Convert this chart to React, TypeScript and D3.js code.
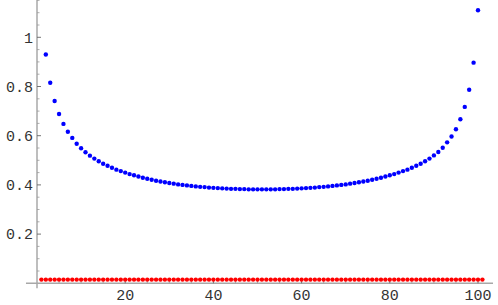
import React, { useEffect, useRef } from 'react';
import * as d3 from 'd3';

// Blue series, x = 2..100
const blueStart = 2;
const blueValues = [
  0.93, 0.815, 0.741, 0.688, 0.648, 0.616, 0.591, 0.567, 0.549, 0.533,
  0.519, 0.507, 0.496, 0.486, 0.478, 0.470, 0.462, 0.456, 0.450, 0.444,
  0.439, 0.434, 0.429, 0.425, 0.421, 0.417, 0.414, 0.411, 0.408, 0.405,
  0.402, 0.400, 0.398, 0.396, 0.394, 0.392, 0.391, 0.389, 0.388, 0.387,
  0.386, 0.385, 0.384, 0.384, 0.383, 0.383, 0.382, 0.382, 0.382, 0.382,
  0.382, 0.382, 0.382, 0.383, 0.383, 0.384, 0.384, 0.385, 0.386, 0.387,
  0.388, 0.389, 0.391, 0.392, 0.394, 0.396, 0.398, 0.400, 0.402, 0.405,
  0.408, 0.411, 0.414, 0.417, 0.421, 0.425, 0.429, 0.434, 0.439, 0.444,
  0.450, 0.456, 0.462, 0.470, 0.478, 0.486, 0.496, 0.507, 0.520, 0.534,
  0.551, 0.573, 0.597, 0.626, 0.667, 0.717, 0.787, 0.897, 1.11,
];

// Red series, x = 1..101
const redStart = 1;
const redValues = [
  0.015, 0.015, 0.015, 0.015, 0.015, 0.015, 0.015, 0.015, 0.015, 0.015,
  0.015, 0.015, 0.015, 0.015, 0.015, 0.015, 0.015, 0.015, 0.015, 0.015,
  0.015, 0.015, 0.015, 0.015, 0.015, 0.015, 0.015, 0.015, 0.015, 0.015,
  0.015, 0.015, 0.015, 0.015, 0.015, 0.015, 0.015, 0.015, 0.015, 0.015,
  0.015, 0.015, 0.015, 0.015, 0.015, 0.015, 0.015, 0.015, 0.015, 0.015,
  0.015, 0.015, 0.015, 0.015, 0.015, 0.015, 0.015, 0.015, 0.015, 0.015,
  0.015, 0.015, 0.015, 0.015, 0.015, 0.015, 0.015, 0.015, 0.015, 0.015,
  0.015, 0.015, 0.015, 0.015, 0.015, 0.015, 0.015, 0.015, 0.015, 0.015,
  0.015, 0.015, 0.015, 0.015, 0.015, 0.015, 0.015, 0.015, 0.015, 0.015,
  0.015, 0.015, 0.015, 0.015, 0.015, 0.015, 0.015, 0.015, 0.015, 0.015,
  0.015,
];

// Tick labels
const xTicks = [20, 40, 60, 80, 100];
const yTicks = [0.2, 0.4, 0.6, 0.8, 1];

const App = () => {
  const svgRef = useRef<SVGSVGElement>(null);

  useEffect(() => {
    const width = 498;
    const height = 305;

    const svg = d3.select(svgRef.current);
    svg.selectAll('*').remove();
    svg.attr('width', width).attr('height', height);

    const x = d3.scaleLinear().domain([0, 100]).range([37, 478]);
    const y = d3.scaleLinear().domain([0, 1]).range([283.3, 37.3]);

    const axisColor = '#a8a8a8';
    const tickColor = '#666';

    // axes lines
    svg.append('line')
      .attr('x1', x(-2.5)).attr('x2', x(103.4))
      .attr('y1', y(0)).attr('y2', y(0))
      .attr('stroke', axisColor).attr('stroke-width', 1.5);
    svg.append('line')
      .attr('x1', x(0)).attr('x2', x(0))
      .attr('y1', y(1.16)).attr('y2', y(-0.02))
      .attr('stroke', axisColor).attr('stroke-width', 1.5);

    // minor ticks
    const xMinor = d3.range(5, 101, 5).filter(v => v % 20 !== 0);
    const yMinor = d3.range(1, 24).map(i => i * 0.05).filter(v => Math.abs(v * 5 - Math.round(v * 5)) > 1e-6);

    svg.append('g').selectAll('line')
      .data(xMinor).enter().append('line')
      .attr('x1', d => x(d)).attr('x2', d => x(d))
      .attr('y1', y(0)).attr('y2', y(0) - 2.5)
      .attr('stroke', '#999').attr('stroke-width', 0.8);
    svg.append('g').selectAll('line')
      .data(yMinor).enter().append('line')
      .attr('x1', x(0)).attr('x2', x(0) + 2.5)
      .attr('y1', d => y(d)).attr('y2', d => y(d))
      .attr('stroke', '#999').attr('stroke-width', 0.8);

    // major ticks
    svg.append('g').selectAll('line')
      .data(xTicks).enter().append('line')
      .attr('x1', d => x(d)).attr('x2', d => x(d))
      .attr('y1', y(0)).attr('y2', y(0) - 4)
      .attr('stroke', tickColor).attr('stroke-width', 0.9);
    svg.append('g').selectAll('line')
      .data(yTicks).enter().append('line')
      .attr('x1', x(0)).attr('x2', x(0) + 4)
      .attr('y1', d => y(d)).attr('y2', d => y(d))
      .attr('stroke', tickColor).attr('stroke-width', 0.9);

    // tick labels
    const font = '"Liberation Mono", "DejaVu Sans Mono", monospace';
    svg.append('g').selectAll('text')
      .data(xTicks).enter().append('text')
      .attr('x', d => x(d))
      .attr('y', 300)
      .attr('text-anchor', 'middle')
      .attr('font-family', font)
      .attr('font-size', '15px')
      .attr('fill', '#333')
      .text(d => String(d));
    svg.append('g').selectAll('text')
      .data(yTicks).enter().append('text')
      .attr('x', 33)
      .attr('y', d => y(d))
      .attr('dy', '0.35em')
      .attr('text-anchor', 'end')
      .attr('font-family', font)
      .attr('font-size', '15px')
      .attr('fill', '#333')
      .text(d => String(d));

    // points
    svg.append('g').selectAll('circle')
      .data(redValues).enter().append('circle')
      .attr('cx', (_, i) => x(redStart + i))
      .attr('cy', d => y(d))
      .attr('r', 2.2)
      .attr('fill', '#ff0000');
    svg.append('g').selectAll('circle')
      .data(blueValues).enter().append('circle')
      .attr('cx', (_, i) => x(blueStart + i))
      .attr('cy', d => y(d))
      .attr('r', 2.2)
      .attr('fill', '#0000ff');
  }, []);

  return <svg ref={svgRef} style={{ position: 'absolute', left: 0, top: 0 }}></svg>;
};

export default App;
